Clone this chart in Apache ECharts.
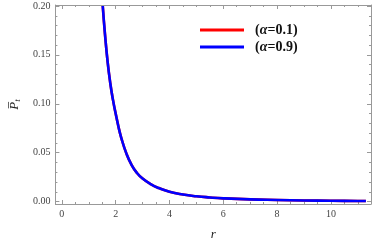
<!DOCTYPE html>
<html><head><meta charset="utf-8">
<script src="https://cdn.jsdelivr.net/npm/echarts@6/dist/echarts.min.js"></script>
<style>html,body{margin:0;padding:0;background:#fff}#c{width:374px;height:246px}</style>
</head><body><div id="c"></div>
<script>
const rValues = [1.52,1.6,1.7,1.8,1.9,2.0,2.1,2.2,2.4,2.6,2.8,3.0,3.3,3.6,4.0,4.5,5.0,5.5,6.0,7.0,8.0,9.0,10.0,11.0,11.3];
const pAlpha01 = [0.200,0.172,0.143,0.121,0.104,0.090,0.077,0.066,0.049,0.037,0.029,0.0235,0.0178,0.0138,0.0100,0.0072,0.0054,0.0042,0.0033,0.0022,0.0016,0.0011,0.0008,0.0006,0.0005];
const pAlpha09 = [0.200,0.172,0.143,0.121,0.104,0.090,0.077,0.066,0.049,0.037,0.029,0.0235,0.0178,0.0138,0.0100,0.0072,0.0054,0.0042,0.0033,0.0022,0.0016,0.0011,0.0008,0.0006,0.0005];
const xTicks = [0,2,4,6,8,10];
const xMinor = [0.5,1,1.5,2.5,3,3.5,4.5,5,5.5,6.5,7,7.5,8.5,9,9.5,10.5,11];
const yTicks = [0,0.05,0.10,0.15,0.20];
const yMinor = [0.01,0.02,0.03,0.04,0.06,0.07,0.08,0.09,0.11,0.12,0.13,0.14,0.16,0.17,0.18,0.19];
const seriesNames = ['(α=0.1)','(α=0.9)'];

const XMIN=-0.24, XMAX=11.49, YMIN=-0.0025, YMAX=0.201;
const serif = '"Liberation Serif","DejaVu Serif",serif';
const axisCol = '#999';

function xa(pos, vals, len, showLine, showLabel){
  return {type:'value', position:pos, min:XMIN, max:XMAX,
    axisLine:{show:showLine, onZero:false, lineStyle:{color:axisCol, width:1}},
    axisTick:{show:true, inside:true, length:len, customValues:vals, lineStyle:{color:axisCol}},
    axisLabel:{show:showLabel, customValues:vals, color:'#444', fontFamily:serif, fontSize:10, margin:5,
      formatter:v=>String(Math.round(v))},
    splitLine:{show:false}};
}
function ya(pos, vals, len, showLine, showLabel){
  return {type:'value', position:pos, min:YMIN, max:YMAX,
    axisLine:{show:showLine, onZero:false, lineStyle:{color:axisCol, width:1}},
    axisTick:{show:true, inside:true, length:len, customValues:vals, lineStyle:{color:axisCol}},
    axisLabel:{show:showLabel, customValues:vals, color:'#444', fontFamily:serif, fontSize:10, margin:5,
      formatter:v=>v.toFixed(2)},
    splitLine:{show:false}};
}
const chart = echarts.init(document.getElementById('c'), null, {renderer:'canvas'});
const d1 = rValues.map((r,i)=>[r,pAlpha01[i]]);
const d2 = rValues.map((r,i)=>[r,pAlpha09[i]]);
chart.setOption({
  animation:false,
  grid:{left:44, right:3, top:5, bottom:41},
  xAxis:[
    Object.assign(xa('bottom', xTicks, 4, true, true), {name:'r', nameLocation:'middle', nameGap:24,
      nameTextStyle:{fontFamily:serif, fontStyle:'italic', fontSize:13, color:'#222'}}),
    xa('bottom', xMinor, 2, false, false),
    xa('top', xTicks, 4, true, false),
    xa('top', xMinor, 2, false, false)
  ],
  yAxis:[
    Object.assign(ya('left', yTicks, 4, true, true), {name:'{p|P\u0305}{t|t}', nameLocation:'middle', nameGap:29, nameRotate:90,
      nameTextStyle:{rich:{p:{fontFamily:serif, fontStyle:'italic', fontSize:13, color:'#222'},
        t:{fontFamily:serif, fontStyle:'italic', fontSize:9, color:'#222', verticalAlign:'bottom', padding:[6,0,0,0]}}}}),
    ya('left', yMinor, 2, false, false),
    ya('right', yTicks, 4, true, false),
    ya('right', yMinor, 2, false, false)
  ],
  legend:{orient:'vertical', left:200, top:23, padding:0, itemWidth:44, itemHeight:3, itemGap:3,
    data:seriesNames, icon:'rect',
    formatter:n=>'{b|(}{a|α}{b|' + n.slice(2) + '}',
    textStyle:{padding:[0,0,0,6], rich:{
      a:{fontFamily:serif, fontStyle:'italic', fontWeight:'bold', fontSize:14, color:'#111'},
      b:{fontFamily:serif, fontWeight:'bold', fontSize:14, color:'#111'}}}},
  series:[
    {name:seriesNames[0], type:'line', data:d1, smooth:true, symbol:'none', color:'#ff0000', lineStyle:{width:2.6}, z:2},
    {name:seriesNames[1], type:'line', data:d2, smooth:true, symbol:'none', color:'#0000ff', lineStyle:{width:2.6}, z:3}
  ]
});
</script></body></html>
